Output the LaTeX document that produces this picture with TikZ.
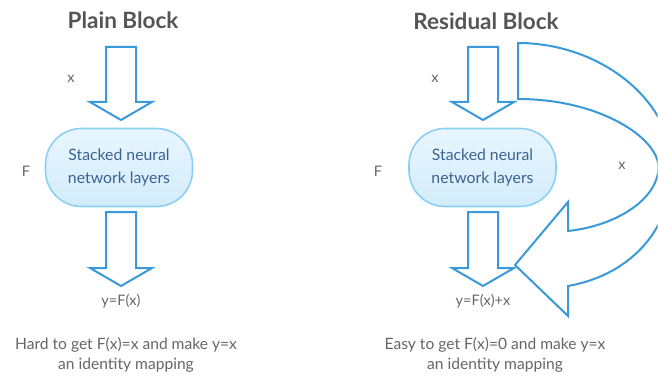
\documentclass[tikz,border=0pt]{standalone}
\usepackage{fontspec}
\setmainfont{Lato}
\definecolor{arrowblue}{HTML}{3A9AD9}
\definecolor{boxedge}{HTML}{8CCFF5}
\definecolor{boxtop}{HTML}{E8F6FE}
\definecolor{boxbot}{HTML}{D3ECFA}
\definecolor{boxtext}{HTML}{3D6291}
\definecolor{labelgray}{HTML}{666666}
\definecolor{titlegray}{HTML}{555555}
% hollow block arrow pointing down: centre x, top y, y where the head starts
\newcommand\hollowdown[3]{%
  \draw[blockarrow] (#1-15,#2) -- (#1+15,#2) -- (#1+15,#3) -- (#1+31,#3)
    -- (#1,#3+18) -- (#1-31,#3) -- (#1-15,#3) -- cycle;}
\begin{document}
\begin{tikzpicture}[x=1pt,y=-1pt,
  blockarrow/.style={draw=arrowblue,line width=2pt,line join=miter,fill=white},
  layerbox/.style={draw=boxedge,line width=1.6pt,rounded corners=36pt,
    top color=boxtop,bottom color=boxbot,minimum width=147pt,minimum height=78pt,
    text=boxtext,font=\fontsize{15.8}{23}\selectfont,align=center,inner sep=0pt},
  title/.style={font=\fontsize{22.5}{26}\selectfont\bfseries,text=titlegray},
  lbl/.style={font=\fontsize{14.5}{17}\selectfont,text=labelgray},
  note/.style={font=\fontsize{15.6}{20}\selectfont,text=labelgray,align=center}]
\useasboundingbox (0,0) rectangle (658,377);

% ---- plain block ----
\node[title] (t1) at (123,20) {Plain Block};
\hollowdown{121}{47}{102}
\node[layerbox] (f1) at (119,167.5) {Stacked neural\\network layers};
\hollowdown{121}{212}{268}
\node[lbl] (x1) at (71,79) {x};
\node[lbl] (F1) at (26,171) {F};
\node[lbl] (y1) at (121,301) {y=F(x)};
\node[note] (n1) at (126,355) {Hard to get F(x)=x and make y=x\\an identity mapping};

% ---- residual block ----
\node[title] (t2) at (486,21) {Residual Block};
\hollowdown{483}{47}{102}
\node[layerbox] (f2) at (482.5,167.5) {Stacked neural\\network layers};
\hollowdown{483}{212}{268}
\node[lbl] (x2) at (435,79) {x};
\node[lbl] (F2) at (378,171) {F};
\node[lbl] (y2) at (483,301) {y=F(x)+x};
\node[note] (n2) at (495,355) {Easy to get F(x)=0 and make y=x\\an identity mapping};

% identity shortcut: curved hollow arrow, cut off at the right edge
\begin{scope}
  \clip (0,0) rectangle (657.5,377);
  \draw[blockarrow]
    (518,43) .. controls (600,43) and (672,100) .. (672,167)
             .. controls (672,235) and (625,276) .. (568,286)
    -- (568,316) -- (515,265) -- (568,202) -- (568,231)
             .. controls (615,226) and (658,200) .. (658.5,167)
             .. controls (658,138) and (600,99) .. (518,99)
    -- cycle;
\end{scope}
\node[lbl] (x3) at (622,166) {x};
\end{tikzpicture}
\end{document}
